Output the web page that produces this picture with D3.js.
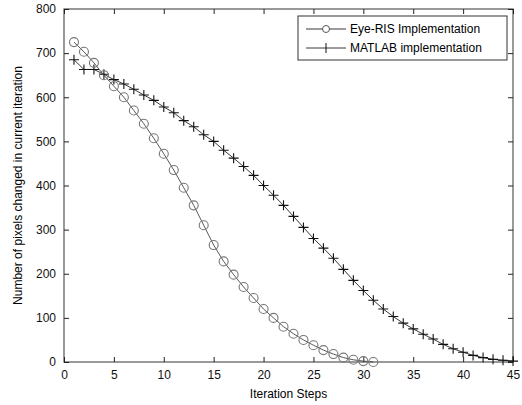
<!doctype html>
<html>
  <head>
    <title>Pixels changed per iteration</title>
    <style>
      body { margin: 0; background: #fff; }
      text { font-family: 'Liberation Sans', Arial, sans-serif; }
    </style>
  </head>
  <body>
    <svg width='522' height='405'></svg>

  <script src='https://d3js.org/d3.v7.min.js'></script>
  <script>
// Values.
var eyeRisSteps = d3.range(1, 32);
var eyeRisValues = [725, 703, 678, 650, 625, 600, 570, 540, 507, 472,
  435, 395, 355, 310, 265, 228, 198, 170, 145, 120,
  100, 80, 64, 50, 38, 27, 18, 10, 5, 2, 0];
var matlabSteps = d3.range(1, 46);
var matlabValues = [685, 663, 663, 652, 640, 630, 618, 605, 593, 578,
  565, 547, 533, 515, 500, 480, 462, 443, 423, 400,
  378, 355, 330, 305, 280, 258, 235, 210, 185, 162,
  140, 120, 103, 88, 75, 63, 52, 40, 30, 22,
  15, 10, 6, 4, 2];
var xTicks = [0, 5, 10, 15, 20, 25, 30, 35, 40, 45];
var yTicks = [0, 100, 200, 300, 400, 500, 600, 700, 800];
var legendLabels = ['Eye-RIS Implementation', 'MATLAB implementation'];

// note: "top" is taken by window.top, so use plot* names
var svg = d3.select('svg'),
  plotL = 64, plotR = 513, plotT = 9, plotB = 362;

var x = d3.scaleLinear().domain([0, 45]).range([plotL, plotR]);
var y = d3.scaleLinear().domain([0, 800]).range([plotB, plotT]);

// frame
svg.append('rect')
  .attr('x', plotL).attr('y', plotT)
  .attr('width', plotR - plotL).attr('height', plotB - plotT)
  .attr('fill', 'white').attr('stroke', '#555').attr('stroke-width', 1.2);

// ticks point inwards on all four sides
function ticks(axis, g) {
  g.call(axis).call(function(s) { s.select('.domain').remove(); });
  g.selectAll('line').attr('stroke', '#222');
  g.selectAll('text').attr('font-size', 12).attr('fill', '#111');
}
ticks(d3.axisBottom(x).tickValues(xTicks).tickSizeInner(-5).tickPadding(8),
  svg.append('g').attr('transform', 'translate(0,' + plotB + ')'));
ticks(d3.axisTop(x).tickValues(xTicks).tickSizeInner(-5).tickFormat(''),
  svg.append('g').attr('transform', 'translate(0,' + plotT + ')'));
ticks(d3.axisLeft(y).tickValues(yTicks).tickSizeInner(-5).tickPadding(8),
  svg.append('g').attr('transform', 'translate(' + plotL + ',0)'));
ticks(d3.axisRight(y).tickValues(yTicks).tickSizeInner(-5).tickFormat(''),
  svg.append('g').attr('transform', 'translate(' + plotR + ',0)'));

svg.append('text')
  .attr('x', (plotL + plotR) / 2).attr('y', 398)
  .attr('text-anchor', 'middle').attr('font-size', 12)
  .text('Iteration Steps');
svg.append('text')
  .attr('transform', 'translate(22,' + (plotT + plotB) / 2 + ') rotate(-90)')
  .attr('text-anchor', 'middle').attr('font-size', 12)
  .text('Number of pixels changed in current iteration');

var line = d3.line();

// MATLAB series
var mPts = matlabSteps.map(function(s, i) { return [x(s), y(matlabValues[i])]; });
svg.append('path').attr('d', line(mPts))
  .attr('fill', 'none').attr('stroke', '#222').attr('stroke-width', 0.9);
svg.selectAll('.plus').data(mPts).enter().append('path')
  .attr('d', function(p) { return 'M' + (p[0] - 5) + ',' + p[1] + 'H' + (p[0] + 5) + 'M' + p[0] + ',' + (p[1] - 5) + 'V' + (p[1] + 5); })
  .attr('stroke', '#111').attr('stroke-width', 1.1);

// Eye-RIS series
var ePts = eyeRisSteps.map(function(s, i) { return [x(s), y(eyeRisValues[i])]; });
svg.append('path').attr('d', line(ePts))
  .attr('fill', 'none').attr('stroke', '#444').attr('stroke-width', 0.9);
svg.selectAll('.circ').data(ePts).enter().append('circle')
  .attr('cx', function(p) { return p[0]; })
  .attr('cy', function(p) { return p[1]; })
  .attr('r', 4.5)
  .attr('fill', 'none').attr('stroke', '#777').attr('stroke-width', 1.1);

// legend
svg.append('rect')
  .attr('x', 298).attr('y', 16).attr('width', 209).attr('height', 44)
  .attr('fill', 'white').attr('stroke', '#333').attr('stroke-width', 1);
legendLabels.forEach(function(label, i) {
  var ly = 29 + i * 19;
  svg.append('line').attr('x1', 306).attr('x2', 346).attr('y1', ly).attr('y2', ly)
    .attr('stroke', '#222').attr('stroke-width', 0.9);
  if (i === 0) {
    svg.append('circle').attr('cx', 326).attr('cy', ly).attr('r', 3.5)
      .attr('fill', 'white').attr('stroke', '#555');
  } else {
    svg.append('path').attr('d', 'M326,' + (ly - 5) + 'V' + (ly + 5))
      .attr('stroke', '#111');
  }
  svg.append('text').attr('x', 350).attr('y', ly + 4)
    .attr('font-size', 12).text(label);
});
  </script>
  </body>
</html>
